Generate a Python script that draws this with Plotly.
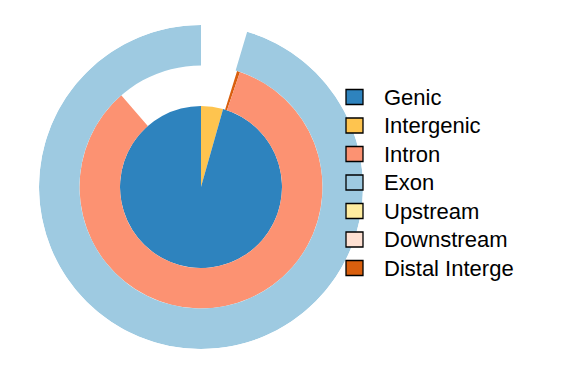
import plotly.graph_objects as go
import numpy as np

# ---- data (percent of the full circle, clockwise from 12 o'clock) ----
inner_labels = ["Intergenic", "Genic"]
inner_values = [4.4, 95.6]

middle_labels = ["", "Distal Interge", "Intron", ""]
middle_values = [4.8, 0.4, 83.4, 11.4]

outer_labels = ["", "Exon"]
outer_values = [4.6, 95.4]

legend_labels = ["Genic", "Intergenic", "Intron", "Exon", "Upstream", "Downstream", "Distal Interge"]
legend_colors = ["#2E83BE", "#FEC44F", "#FC9272", "#9ECAE1", "#FFEDA0", "#FEE0D2", "#D95F0E"]
color_of = dict(zip(legend_labels, legend_colors))

# ring radii (relative units)
ring_base = [0, 2, 3]
ring_len = [2, 1, 1]

fig = go.Figure()

def add_ring(labels, values, base, length):
    vals = np.array(values, dtype=float)
    ends = np.cumsum(vals) / vals.sum() * 360.0
    starts = ends - vals / vals.sum() * 360.0
    for lab, s, e in zip(labels, starts, ends):
        if not lab:
            continue
        fig.add_trace(go.Barpolar(
            r=[length], base=[base], theta=[(s + e) / 2], width=[e - s],
            marker=dict(color=color_of[lab], line=dict(width=0)),
            name=lab, showlegend=False, hoverinfo="skip"))

add_ring(inner_labels, inner_values, ring_base[0], ring_len[0])
add_ring(middle_labels, middle_values, ring_base[1], ring_len[1])
add_ring(outer_labels, outer_values, ring_base[2], ring_len[2])

W, H = 574, 369
cx, cy, R = 201, 187, 162

# legend drawn as keys + text (pixel layout converted to paper units)
key_x0, key_x1, key_h = 346, 363, 15
text_x = 382
row0, row_step = 97, 28.5
shapes, annotations = [], []
for i, (lab, col) in enumerate(zip(legend_labels, legend_colors)):
    yc = row0 + i * row_step
    shapes.append(dict(type="rect", xref="paper", yref="paper",
                       x0=key_x0 / W, x1=key_x1 / W,
                       y0=1 - (yc + key_h / 2) / H, y1=1 - (yc - key_h / 2) / H,
                       fillcolor=col, line=dict(color="black", width=1.3)))
    annotations.append(dict(xref="paper", yref="paper", x=text_x / W, y=1 - yc / H,
                            xanchor="left", yanchor="middle", text=lab, showarrow=False,
                            font=dict(size=22, color="black")))

fig.update_layout(
    width=W, height=H,
    margin=dict(l=0, r=0, t=0, b=0),
    paper_bgcolor="white", plot_bgcolor="white",
    font=dict(family="Liberation Sans, Arial, sans-serif", size=20, color="black"),
    polar=dict(
        domain=dict(x=[(cx - R) / W, (cx + R) / W], y=[(H - cy - R) / H, (H - cy + R) / H]),
        bgcolor="white",
        bargap=0,
        radialaxis=dict(range=[0, 4], visible=False, showgrid=False),
        angularaxis=dict(direction="clockwise", rotation=90, visible=False, showgrid=False),
    ),
    shapes=shapes,
    annotations=annotations,
    showlegend=False,
)

fig.write_html("out.html")
